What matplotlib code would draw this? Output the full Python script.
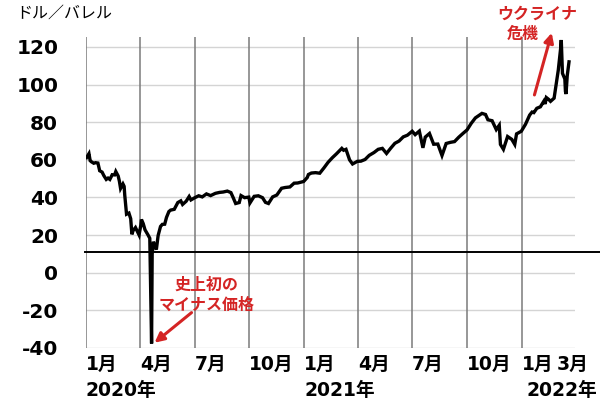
import matplotlib
matplotlib.use('Agg')
import matplotlib.pyplot as plt
import matplotlib.transforms as mtrans
from matplotlib.lines import Line2D
import pandas as pd

# ---- data (WTI crude, USD/barrel) ----
dates = [
    '2020-01-02', '2020-01-06', '2020-01-08', '2020-01-10', '2020-01-14', '2020-01-17', '2020-01-21',
    '2020-01-24', '2020-01-28', '2020-01-31', '2020-02-04', '2020-02-07', '2020-02-10', '2020-02-14',
    '2020-02-18', '2020-02-20', '2020-02-24', '2020-02-26', '2020-02-28', '2020-03-03', '2020-03-05',
    '2020-03-06', '2020-03-09', '2020-03-13', '2020-03-16', '2020-03-18', '2020-03-20', '2020-03-24',
    '2020-03-30', '2020-04-02', '2020-04-03', '2020-04-06', '2020-04-09', '2020-04-14', '2020-04-17',
    '2020-04-20', '2020-04-21', '2020-04-23', '2020-04-28', '2020-05-01', '2020-05-05', '2020-05-08',
    '2020-05-12', '2020-05-15', '2020-05-19', '2020-05-22', '2020-05-28', '2020-06-03', '2020-06-08',
    '2020-06-11', '2020-06-17', '2020-06-22', '2020-06-25', '2020-07-01', '2020-07-08', '2020-07-14',
    '2020-07-21', '2020-07-28', '2020-08-05', '2020-08-12', '2020-08-18', '2020-08-25', '2020-08-31',
    '2020-09-04', '2020-09-08', '2020-09-14', '2020-09-17', '2020-09-23', '2020-09-30', '2020-10-02',
    '2020-10-09', '2020-10-16', '2020-10-23', '2020-10-28', '2020-11-02', '2020-11-09', '2020-11-16',
    '2020-11-24', '2020-11-30', '2020-12-08', '2020-12-15', '2020-12-21', '2020-12-31',
    '2021-01-06', '2021-01-08', '2021-01-13', '2021-01-20', '2021-01-27', '2021-02-03', '2021-02-10',
    '2021-02-17', '2021-02-24', '2021-03-05', '2021-03-08', '2021-03-12', '2021-03-18', '2021-03-23',
    '2021-03-31', '2021-04-06', '2021-04-13', '2021-04-20', '2021-04-28', '2021-05-05', '2021-05-12',
    '2021-05-19', '2021-05-26', '2021-06-02', '2021-06-09', '2021-06-16', '2021-06-23', '2021-07-01',
    '2021-07-06', '2021-07-13', '2021-07-19', '2021-07-23', '2021-07-30', '2021-08-06', '2021-08-13',
    '2021-08-20', '2021-08-27', '2021-09-03', '2021-09-10', '2021-09-17', '2021-09-24', '2021-10-01',
    '2021-10-08', '2021-10-15', '2021-10-22', '2021-10-26', '2021-11-01', '2021-11-05', '2021-11-12',
    '2021-11-19', '2021-11-24', '2021-11-26', '2021-12-01', '2021-12-08', '2021-12-15', '2021-12-20',
    '2021-12-23', '2021-12-31',
    '2022-01-07', '2022-01-14', '2022-01-18', '2022-01-21', '2022-01-26', '2022-02-01', '2022-02-07',
    '2022-02-09', '2022-02-11', '2022-02-15', '2022-02-18', '2022-02-24', '2022-03-01', '2022-03-03',
    '2022-03-07', '2022-03-08', '2022-03-10', '2022-03-14', '2022-03-15', '2022-03-16', '2022-03-18',
    '2022-03-21',
]
prices = [
    61.2, 63.3, 59.6, 59.0, 58.2, 58.5, 58.3,
    54.2, 53.5, 51.6, 49.6, 50.3, 49.6, 52.1,
    52.0, 53.8, 51.4, 48.7, 44.8, 47.2, 45.9,
    41.3, 31.1, 31.7, 28.7, 20.4, 22.4, 24.0,
    20.1, 25.3, 28.3, 26.1, 22.8, 20.1, 18.3,
    -37.6, 10.0, 16.5, 12.3, 19.8, 24.6, 25.7,
    25.8, 29.4, 32.5, 33.3, 33.7, 37.3, 38.2,
    36.3, 38.0, 40.5, 38.7, 39.8, 40.9, 40.3,
    41.9, 41.0, 42.2, 42.7, 42.9, 43.4, 42.6,
    39.8, 36.8, 37.3, 41.0, 39.9, 40.2, 37.1,
    40.6, 40.9, 39.9, 37.4, 36.8, 40.3, 41.3,
    44.9, 45.3, 45.6, 47.6, 47.7, 48.5,
    50.6, 52.2, 53.0, 53.2, 52.9, 55.7, 58.7,
    61.1, 63.2, 66.1, 65.1, 65.6, 60.0, 57.8,
    59.2, 59.3, 60.2, 62.4, 63.9, 65.6, 66.1,
    63.4, 66.2, 68.8, 70.0, 72.2, 73.1, 75.2,
    73.4, 75.3, 66.4, 72.1, 74.0, 68.3, 68.4,
    62.3, 68.7, 69.3, 69.7, 72.0, 74.0, 75.9,
    79.4, 82.3, 83.8, 84.7, 84.1, 81.3, 80.8,
    76.1, 78.4, 68.2, 65.6, 72.4, 70.9, 68.2,
    73.8, 75.2,
    78.9, 83.8, 85.4, 85.1, 87.4, 88.2, 91.3,
    89.7, 93.1, 92.1, 91.1, 92.8, 103.4, 107.7,
    119.4, 123.7, 106.0, 103.0, 96.4, 95.0, 104.7,
    112.1,
]
ytick_values = [-40, -20, 0, 20, 40, 60, 80, 100, 120]
quarter_lines = ['2020-01-01', '2020-04-01', '2020-07-01', '2020-10-01',
                 '2021-01-01', '2021-04-01', '2021-07-01', '2021-10-01', '2022-01-01']
month_ticks = ['2020-01-01', '2020-04-01', '2020-07-01', '2020-10-01',
               '2021-01-01', '2021-04-01', '2021-07-01', '2021-10-01', '2022-01-01', '2022-03-01']
month_labels = ['1月', '4月', '7月', '10月', '1月', '4月', '7月', '10月', '1月', '3月']
year_labels = ['2020年', '2021年', '2022年']
base_level = 11

x = pd.to_datetime(dates)
RED = '#d42424'
FAM = ['DejaVu Sans', 'Noto Sans CJK JP']
CJK = ['Noto Sans CJK JP', 'DejaVu Sans']

fig = plt.figure(figsize=(6, 4.03), dpi=100)
ax = fig.add_axes([0.1433, 0.1365, 0.8150, 0.7717])

ax.set_xlim(pd.Timestamp('2020-01-01'), pd.Timestamp('2022-03-31'))
ax.set_ylim(-40, 125.3)

for s in ax.spines.values():
    s.set_visible(False)

for v in ytick_values:
    ax.axhline(v, color='#d4d4d4', lw=1.0, zorder=1)
for q in quarter_lines:
    ax.axvline(pd.Timestamp(q), color='#7a7a7a', lw=1.1, zorder=1)

ax.plot(x, prices, color='black', lw=2.4, zorder=3, solid_joinstyle='miter')

# black reference line extending beyond the plot to the right edge
tr = mtrans.blended_transform_factory(fig.transFigure, ax.transData)
fig.add_artist(Line2D([85 / 600, 1.0], [base_level, base_level], transform=tr,
                      color='black', lw=1.4, zorder=4))

ax.set_yticks(ytick_values)
ax.set_yticklabels([str(v) for v in ytick_values])
ax.tick_params(axis='y', length=0, pad=20)
for t in ax.get_yticklabels():
    t.set_fontfamily(FAM)
    t.set_fontweight('bold')
    t.set_fontsize(14.5)

ax.set_xticks(pd.to_datetime(month_ticks))
ax.set_xticklabels(month_labels)
ax.tick_params(axis='x', length=0, pad=5)
for t in ax.get_xticklabels():
    t.set_fontfamily(FAM)
    t.set_fontweight('bold')
    t.set_fontsize(13.5)
    t.set_ha('left')

ty = mtrans.blended_transform_factory(ax.transData, fig.transFigure)
yy = 1 - 390 / 403
ax.text(pd.Timestamp('2020-01-01'), yy, year_labels[0], transform=ty, ha='left', va='center',
        fontsize=13.5, fontweight='bold', family=FAM)
ax.text(pd.Timestamp('2021-01-01'), yy, year_labels[1], transform=ty, ha='left', va='center',
        fontsize=13.5, fontweight='bold', family=FAM)
fig.text(0.995, yy, year_labels[2], ha='right', va='center',
         fontsize=13.5, fontweight='bold', family=FAM)

fig.text(16 / 600, 1 - 13 / 403, 'ドル／バレル', ha='left', va='center',
         fontsize=11.5, family=CJK)

# annotations
ax.text(pd.Timestamp('2020-07-21'), -6.5, '史上初の', ha='center', va='center', color=RED,
        fontsize=11.5, fontweight='bold', family=CJK)
ax.text(pd.Timestamp('2020-07-21'), -17, 'マイナス価格', ha='center', va='center', color=RED,
        fontsize=11.5, fontweight='bold', family=CJK)
ax.annotate('', xy=(pd.Timestamp('2020-04-25'), -37.2), xytext=(pd.Timestamp('2020-06-26'), -21.2),
            arrowprops=dict(arrowstyle='-|>', color=RED, lw=2.2, mutation_scale=14,
                            shrinkA=0, shrinkB=0), annotation_clip=False)

ax.text(pd.Timestamp('2022-01-27'), 137.8, 'ウクライナ', ha='center', va='center', color=RED,
        fontsize=11.5, fontweight='bold', family=CJK, clip_on=False)
ax.text(pd.Timestamp('2022-01-02'), 127.0, '危機', ha='center', va='center', color=RED,
        fontsize=11.5, fontweight='bold', family=CJK, clip_on=False)
ax.annotate('', xy=(pd.Timestamp('2022-02-20'), 127.5), xytext=(pd.Timestamp('2022-01-22'), 94.5),
            arrowprops=dict(arrowstyle='-|>', color=RED, lw=2.2, mutation_scale=14,
                            shrinkA=0, shrinkB=0), annotation_clip=False)

fig.savefig('out.png', dpi=100)
